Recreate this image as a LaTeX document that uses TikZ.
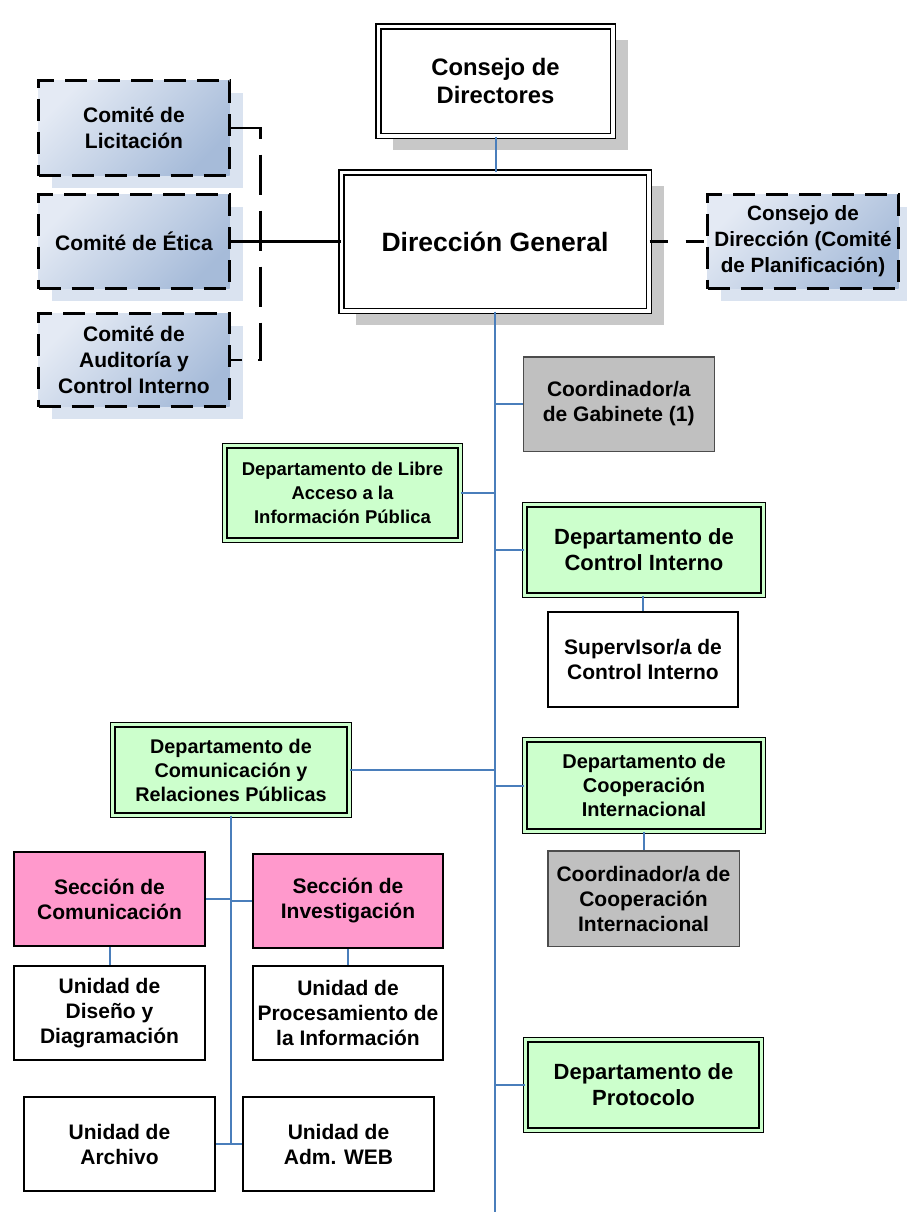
\documentclass[tikz,border=0pt]{standalone}
\usepackage{fontspec}
\setmainfont{Liberation Sans}
\usetikzlibrary{shadows}
\definecolor{lineblue}{HTML}{4A7EBB}
\definecolor{greenfill}{HTML}{CCFFCC}
\definecolor{pinkfill}{HTML}{FF99CC}
\definecolor{grayfill}{HTML}{C0C0C0}
\definecolor{shadowgray}{HTML}{C8C8C8}
\definecolor{cmlight}{HTML}{E4EAF4}
\definecolor{cmdark}{HTML}{A6BBD9}
\definecolor{cmshadow}{HTML}{DAE3F0}
\newcommand\myfs[2]{\fontsize{#1}{#2}\selectfont\bfseries}
\begin{document}
\begin{tikzpicture}[x=1pt,y=-1pt,
  base/.style={rectangle, align=center, inner sep=0pt, font=\myfs{21}{25}},
  dboxstyle/.style={base, draw=black, line width=1.5pt, double=white, double distance=3.5pt, fill=white,
    drop shadow={shadow xshift=15pt, shadow yshift=-14pt, fill=shadowgray, opacity=1}},
  cbox/.style={base, font=\myfs{21}{26}, draw=black, line width=3pt, dash pattern=on 22pt off 11pt,
    left color=cmlight, right color=cmdark, shading angle=45,
    drop shadow={shadow xshift=13.5pt, shadow yshift=-12.5pt, fill=cmshadow, opacity=1}},
  gbox/.style={base, draw=black, line width=1.3pt, double=greenfill, double distance=3pt, fill=greenfill},
  graybox/.style={base, draw=black!70, line width=1.5pt, fill=grayfill},
  pbox/.style={base, draw=black, line width=2pt, fill=pinkfill},
  wbox/.style={base, draw=black, line width=2pt, fill=white},
  conn/.style={draw=lineblue, line width=2pt},
  blk/.style={draw=black, line width=2.5pt},
]
\fill[white] (0,0) rectangle (907,1213);
\useasboundingbox (0,0) rectangle (907,1213);

% top
\node[dboxstyle, minimum width=234.5pt, minimum height=109.5pt, font=\myfs{23.8}{27.5}] (cd) at (495.5,81) {Consejo de\\Directores};
\node[dboxstyle, minimum width=307.5pt, minimum height=138.5pt, font=\myfs{26.5}{32}] (dg) at (495,241.5) {Dirección General};

% committees
\node[cbox, minimum width=191pt, minimum height=95pt] (cl) at (134,128) {Comité de\\Licitación};
\node[cbox, minimum width=191pt, minimum height=94pt] (ce) at (134,241.5) {Comité de Ética};
\node[cbox, minimum width=191pt, minimum height=93pt] (ca) at (134,360) {Comité de\\Auditoría y\\Control Interno};
\node[cbox, minimum width=191pt, minimum height=94pt, font=\myfs{20.7}{26}] (cdir) at (803,241.5) {Consejo de\\Dirección (Comité\\de Planificación)};

% right column
\node[graybox, minimum width=191pt, minimum height=94.5pt, font=\myfs{21}{25}] (gab) at (618.75,404) {Coordinador/a\\de Gabinete (1)};
\node[gbox, minimum width=235.4pt, minimum height=94.4pt, font=\myfs{18.5}{24}] (libre) at (342.5,493) {Departamento de Libre\\Acceso a la\\Información Pública};
\node[gbox, minimum width=238.4pt, minimum height=90.4pt, font=\myfs{22}{26}] (ci) at (644,550) {Departamento de\\Control Interno};
\node[wbox, minimum width=190pt, minimum height=95pt, font=\myfs{21}{25}] (sup) at (643,659.5) {SupervIsor/a de\\Control Interno};
\node[gbox, minimum width=236.4pt, minimum height=90.4pt, font=\myfs{19.8}{24}] (com) at (231,770) {Departamento de\\Comunicación y\\Relaciones Públicas};
\node[gbox, minimum width=238.4pt, minimum height=91.4pt, font=\myfs{20}{24}] (coop) at (644,785.5) {Departamento de\\Cooperación\\Internacional};
\node[graybox, minimum width=191.5pt, minimum height=95.5pt, font=\myfs{21}{25}] (ccoop) at (643.5,898.5) {Coordinador/a de\\Cooperación\\Internacional};
\node[gbox, minimum width=235.4pt, minimum height=90.4pt, font=\myfs{22}{26}] (prot) at (643.5,1085) {Departamento de\\Protocolo};

% left bottom
\node[pbox, minimum width=191pt, minimum height=94pt] (scom) at (109.5,899) {Sección de\\Comunicación};
\node[pbox, minimum width=190pt, minimum height=94pt] (sinv) at (348,901) {Sección de\\Investigación};
\node[wbox, minimum width=191pt, minimum height=94pt] (udis) at (109.5,1013) {Unidad de\\Diseño y\\Diagramación};
\node[wbox, minimum width=190pt, minimum height=94pt] (uproc) at (348,1013) {Unidad de\\Procesamiento de\\la Información};
\node[wbox, minimum width=191pt, minimum height=94pt] (uarch) at (119.5,1144) {Unidad de\\Archivo};
\node[wbox, minimum width=191pt, minimum height=94pt] (uweb) at (338.5,1144) {Unidad de\\Adm. WEB};

\coordinate (mainend) at (495,1212);

% blue connectors
\draw[conn] (cd.south) -- (cd.south |- dg.north);
\draw[conn] (dg.south) -- (dg.south |- mainend);
\draw[conn] (gab.west) -- (gab.west -| dg.south);
\draw[conn] (libre.east) -- (libre.east -| dg.south);
\draw[conn] (ci.west) -- (ci.west -| dg.south);
\draw[conn] (com.east) -- (com.east -| dg.south);
\draw[conn] (coop.west) -- (coop.west -| dg.south);
\draw[conn] (prot.west) -- (prot.west -| dg.south);
\draw[conn] (sup.north) -- (sup.north |- ci.south);
\draw[conn] (ccoop.north) -- (ccoop.north |- coop.south);
\draw[conn] (com.south) -- (com.south |- uarch.east);
\draw[conn] (scom.east) -- (scom.east -| com.south);
\draw[conn] (sinv.west) -- (sinv.west -| com.south);
\draw[conn] (scom.south) -- (scom.south |- udis.north);
\draw[conn] (sinv.south) -- (sinv.south |- uproc.north);
\draw[conn] (uarch.east) -- (uweb.west);

% black connectors
\draw[blk] (ce.east) -- (dg.west);
\draw[blk, dash pattern=on 40pt off 16pt] (cl.east) -- ++(29.5,0) |- (ca.east);
\draw[blk, dash pattern=on 18pt off 18pt] (dg.east) -- (cdir.west);
\end{tikzpicture}
\end{document}
